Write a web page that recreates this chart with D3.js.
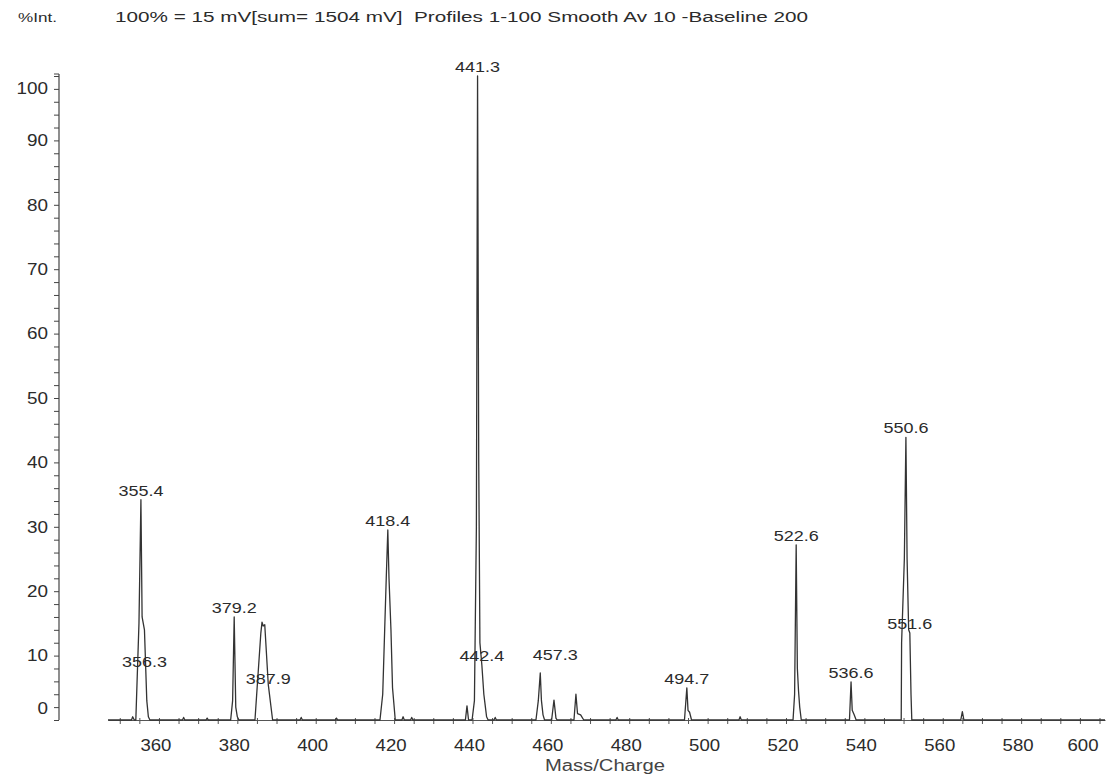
<!DOCTYPE html>
<html>
<head>
<meta charset="utf-8">
<script src="https://cdn.jsdelivr.net/npm/d3@7"></script>
<style>
  html, body { margin: 0; padding: 0; background: #fff; }
  svg { display: block; font-family: "Liberation Sans", Arial, sans-serif; }
</style>
</head>
<body>
<svg id="chart" width="1108" height="775"></svg>
<script>
// Mass spectrum profile: m/z sample points and relative intensity (%)
const profileMz = [
  347.0, 353.0, 353.3, 353.7, 354.1, 354.9, 355.4, 355.7, 356.0, 356.3, 356.9, 357.3, 357.7,
  366.0, 366.3, 366.6, 372.0, 372.3, 372.6,
  378.3, 378.8, 379.2, 379.6, 380.0, 380.4,
  384.5, 386.0, 386.3, 386.6, 387.0, 387.9, 389.0,
  396.0, 396.3, 396.6, 405.0, 405.3, 405.6,
  416.4, 417.1, 417.6, 418.0, 418.4, 418.7, 419.2, 419.6, 420.3,
  422.0, 422.3, 422.6, 424.2, 424.5, 424.8,
  438.2, 438.6, 439.0, 439.9, 440.5, 441.0, 441.3, 441.6, 441.9, 442.4, 442.9, 443.2, 443.6, 444.0,
  445.5, 445.8, 446.1,
  456.2, 456.8, 457.3, 457.6, 458.0, 458.4,
  460.2, 460.8, 461.3, 461.6,
  465.9, 466.4, 466.8, 467.6, 468.4,
  476.6, 476.9, 477.2,
  494.1, 494.7, 495.0, 495.4, 495.9,
  508.0, 508.3, 508.6,
  521.8, 522.2, 522.6, 522.9, 523.2, 523.5, 523.9,
  536.2, 536.6, 536.9, 537.4, 537.9,
  549.4, 549.5, 550.2, 550.6, 550.9, 551.3, 551.6, 551.9, 552.1,
  564.6, 565.0, 565.4,
  601.4
];
const profileInt = [
  0, 0, 0.5, 0, 0, 15, 34.2, 16, 15, 14, 3, 0.5, 0,
  0, 0.4, 0, 0, 0.3, 0,
  0, 3, 16.0, 2, 0.5, 0,
  0, 13.5, 15.2, 14.6, 14.8, 5.5, 0,
  0, 0.4, 0, 0, 0.3, 0,
  0, 4, 14, 22, 29.5, 22, 14, 5, 0,
  0, 0.5, 0, 0, 0.4, 0,
  0, 2.2, 0, 0, 3, 30, 100, 40, 12, 8.5, 4, 2.5, 0.5, 0,
  0, 0.4, 0,
  0, 3, 7.3, 3, 0.8, 0,
  0, 3.1, 0.3, 0,
  0, 4.0, 1, 0.8, 0,
  0, 0.4, 0,
  0, 5.0, 1.5, 1.2, 0,
  0, 0.5, 0,
  0, 4, 27.2, 8, 4.5, 2, 0,
  0, 5.9, 1.5, 0.8, 0,
  0, 12, 25, 43.9, 25, 14, 13.5, 4, 0,
  0, 1.3, 0,
  0
];

// Annotated peaks (m/z)
const peakLabels = [355.4, 356.3, 379.2, 387.9, 418.4, 441.3, 442.4, 457.3, 494.7, 522.6, 536.6, 550.6, 551.6];

// Axis ticks
const xMajorTicks = [360, 380, 400, 420, 440, 460, 480, 500, 520, 540, 560, 580, 600];
const yMajorTicks = [0, 10, 20, 30, 40, 50, 60, 70, 80, 90, 100];

const titleLeft = "%Int.";
const titleMain = "100% = 15 mV[sum= 1504 mV]  Profiles 1-100 Smooth Av 10 -Baseline 200";
const xTitle = "Mass/Charge";

const ink = "#2b2b2b";
const svg = d3.select("#chart");

const x = d3.scaleLinear().domain([347, 601.4]).range([108, 1105]);
const y = d3.scaleLinear().domain([0, 100]).range([720, 76]);

// Header
svg.append("text").attr("x", 18).attr("y", 22)
  .attr("font-size", 13).attr("fill", ink)
  .attr("textLength", 39).attr("lengthAdjust", "spacingAndGlyphs")
  .text(titleLeft);
svg.append("text").attr("x", 115).attr("y", 22)
  .attr("font-size", 14).attr("fill", ink)
  .attr("textLength", 693).attr("lengthAdjust", "spacingAndGlyphs")
  .attr("xml:space", "preserve").style("white-space", "pre")
  .text(titleMain);

// Y axis
const yAxis = d3.axisLeft(y)
  .tickValues(d3.range(0, 101, 2))
  .tickSize(5)
  .tickSizeOuter(0)
  .tickPadding(6)
  .tickFormat(d => (yMajorTicks.includes(d) ? d : ""));
const gy = svg.append("g").attr("transform", "translate(59,0)").call(yAxis);
gy.select(".domain").remove();
gy.selectAll(".tick line").attr("stroke", "#444").attr("stroke-width", 1);
gy.selectAll(".tick text")
  .attr("font-size", 16.5).attr("fill", ink)
  .attr("font-family", "'Liberation Sans', Arial, sans-serif")
  .each(function (d) {
    const t = d3.select(this);
    if (yMajorTicks.includes(d)) t.attr("textLength", String(d).length * 10.5).attr("lengthAdjust", "spacingAndGlyphs");
    if (d === 0) t.attr("dy", "-0.4em");
    if (d === 100) t.attr("dy", "1.05em");
  });
svg.append("line")
  .attr("x1", 59).attr("x2", 59).attr("y1", y(0)).attr("y2", 74)
  .attr("stroke", "#444").attr("stroke-width", 1.2);
svg.append("line")
  .attr("x1", 54).attr("x2", 59).attr("y1", 74).attr("y2", 74)
  .attr("stroke", "#444").attr("stroke-width", 1);

// X axis (ticks cross the baseline)
const xAxis = d3.axisBottom(x)
  .tickValues(d3.range(350, 601, 5))
  .tickSize(4)
  .tickSizeOuter(0)
  .tickFormat(() => "");
const gx = svg.append("g").attr("transform", `translate(0,${y(0)})`).call(xAxis);
gx.select(".domain").attr("stroke", "#555").attr("stroke-width", 1.1);
gx.selectAll(".tick line").attr("y1", -2).attr("stroke", "#555");

svg.append("g").selectAll("text").data(xMajorTicks).join("text")
  .attr("x", d => Math.min(x(d) - 3, 1083))
  .attr("y", 751)
  .attr("text-anchor", "middle")
  .attr("font-size", 16.5).attr("fill", ink)
  .attr("textLength", 31).attr("lengthAdjust", "spacingAndGlyphs")
  .text(d => d);

svg.append("text").attr("x", 605).attr("y", 771)
  .attr("text-anchor", "middle").attr("font-size", 16).attr("fill", "#444")
  .attr("textLength", 120).attr("lengthAdjust", "spacingAndGlyphs")
  .text(xTitle);

// Spectrum trace
const points = profileMz.map((m, i) => [m, profileInt[i]]);
svg.append("path")
  .datum(points)
  .attr("fill", "none")
  .attr("stroke", "#333")
  .attr("stroke-width", 1.3)
  .attr("stroke-linejoin", "round")
  .attr("d", d3.line().x(d => x(d[0])).y(d => y(d[1])));

// Peak annotations, placed just above the apex unless the label sits on the peak body
const intensityAt = m => profileInt[profileMz.indexOf(m)];
const labelShift = { 356.3: 41, 387.9: 3, 457.3: -9 };
const labelDx = { 457.3: 15 };
svg.append("g").selectAll("text").data(peakLabels).join("text")
  .attr("x", d => x(d) + (labelDx[d] || 0))
  .attr("y", d => y(intensityAt(d)) - 4 + (labelShift[d] || 0))
  .attr("text-anchor", "middle")
  .attr("font-size", 15.5).attr("fill", ink)
  .attr("textLength", 45).attr("lengthAdjust", "spacingAndGlyphs")
  .text(d => d3.format(".1f")(d));
</script>
</body>
</html>
